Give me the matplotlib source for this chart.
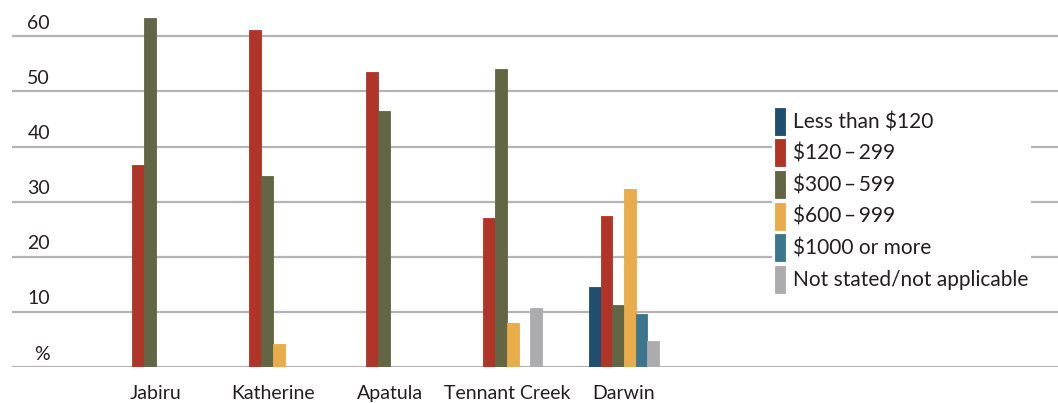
import numpy as np
import matplotlib
matplotlib.use("Agg")
import matplotlib.pyplot as plt
import matplotlib.transforms as mtransforms

plt.rcParams['font.family'] = ['Lato', 'DejaVu Sans']

towns = ["Jabiru", "Katherine", "Apatula", "Tennant Creek", "Darwin"]
series = ["Less than $120", "$120\u2009\u2013\u2009299", "$300\u2009\u2013\u2009599",
          "$600\u2009\u2013\u2009999", "$1000 or more", "Not stated/not applicable"]
less_120 = [0, 0, 0, 0, 14.6]
r120_299 = [36.7, 61.2, 53.5, 27.0, 27.4]
r300_599 = [63.3, 34.7, 46.5, 54.1, 11.3]
r600_999 = [0, 4.2, 0, 8.0, 32.3]
r1000_up = [0, 0, 0, 0, 9.6]
not_stated = [0, 0, 0, 10.7, 4.7]
yticks = [0, 10, 20, 30, 40, 50, 60]
ytick_labels = ["%", "10", "20", "30", "40", "50", "60"]

colors = ["#1f4e6e", "#b03428", "#626644", "#e8ac4a", "#3d768c", "#acacae"]
data = [less_120, r120_299, r300_599, r600_999, r1000_up, not_stated]
txt = "#231f20"

fig = plt.figure(figsize=(10.58, 4.03), dpi=100)
ax = fig.add_axes([0.0113, 0.0893, 0.9887, 0.9107])

x = np.arange(len(towns))
w = 0.1
for k, vals in enumerate(data):
    ax.bar(x + (k - 2.5) * w, vals, width=w, color=colors[k], edgecolor=colors[k],
           linewidth=0.6, label=series[k], zorder=3)

ax.set_xlim(-1.23, 7.71)
ax.set_ylim(0, 66.6)
for y in yticks:
    ax.axhline(y, color="#b4b4b6", linewidth=1.6, zorder=1)

trans = mtransforms.blended_transform_factory(ax.transAxes, ax.transData)
for y, lab in zip(yticks, ytick_labels):
    ax.text(0.0363, y + 0.8, lab, transform=trans, ha="right", va="bottom",
            fontsize=14, color=txt)

ax.set_yticks([])
ax.set_xticks(x)
ax.set_xticklabels(towns, fontsize=14, color=txt)
ax.tick_params(axis="x", length=0, pad=13)
for s in ax.spines.values():
    s.set_visible(False)

leg = ax.legend(loc="upper left", bbox_to_anchor=(0.727, 0.712), fontsize=15,
                handlelength=0.48, handleheight=1.62, labelspacing=0.22,
                handletextpad=0.42, borderpad=0.1, borderaxespad=0,
                frameon=True, fancybox=False)
leg.get_frame().set_facecolor("white")
leg.get_frame().set_edgecolor("none")
leg.get_frame().set_alpha(1)
for t in leg.get_texts():
    t.set_color(txt)

fig.savefig("out.png", dpi=100)
